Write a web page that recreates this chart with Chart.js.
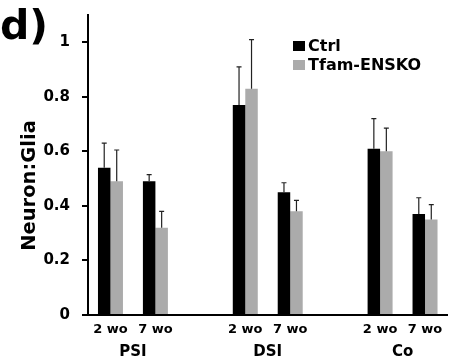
<!DOCTYPE html>
<html>
<head>
<meta charset="utf-8">
<script src="https://cdn.jsdelivr.net/npm/chart.js@4"></script>
<style>
  html, body { margin: 0; padding: 0; background: #fff; }
  canvas { display: block; }
</style>
</head>
<body>
<canvas id="chart" width="457" height="364"></canvas>
<script>
// Time points per region; empty slots separate the three regions
const timeLabels = ['2 wo', '7 wo', '', '2 wo', '7 wo', '', '2 wo', '7 wo'];
const regionNames = ['PSI', 'DSI', 'Co'];
const regionSlots = [[0, 1], [3, 4], [6, 7]];

// Neuron:Glia ratio (mean) and standard error
const ctrlMean = [0.54, 0.49, null, 0.77, 0.45, null, 0.61, 0.37];
const ctrlErr  = [0.09, 0.025, null, 0.14, 0.035, null, 0.11, 0.06];
const koMean   = [0.49, 0.32, null, 0.83, 0.38, null, 0.60, 0.35];
const koErr    = [0.115, 0.06, null, 0.18, 0.04, null, 0.085, 0.055];

const yTicks = [0, 0.2, 0.4, 0.6, 0.8, 1];

const FONT = 'DejaVu Sans';

// Upward error bars with a small cap
const errorBars = {
  id: 'errorBars',
  afterDatasetsDraw(chart) {
    const ctx = chart.ctx;
    const y = chart.scales.y;
    chart.data.datasets.forEach((ds, di) => {
      const meta = chart.getDatasetMeta(di);
      meta.data.forEach((bar, i) => {
        const v = ds.data[i];
        const e = ds.errors[i];
        if (v == null || e == null) return;
        const top = y.getPixelForValue(v + e);
        ctx.save();
        ctx.strokeStyle = '#222';
        ctx.lineWidth = 1.2;
        ctx.beginPath();
        ctx.moveTo(bar.x, bar.y);
        ctx.lineTo(bar.x, top);
        ctx.moveTo(bar.x - 2.5, top);
        ctx.lineTo(bar.x + 2.5, top);
        ctx.stroke();
        ctx.restore();
      });
    });
  }
};

// Region names, legend, axis title and panel letter
const annotations = {
  id: 'annotations',
  afterDraw(chart) {
    const ctx = chart.ctx;
    const x = chart.scales.x;
    ctx.save();
    ctx.fillStyle = '#000';

    // region names under each pair of time points
    ctx.font = 'bold 15px "' + FONT + '"';
    ctx.textAlign = 'center';
    ctx.textBaseline = 'middle';
    regionSlots.forEach((slots, k) => {
      const cx = (x.getPixelForValue(slots[0]) + x.getPixelForValue(slots[1])) / 2;
      ctx.fillText(regionNames[k], cx, 352);
    });

    // legend
    ctx.font = 'bold 16px "' + FONT + '"';
    ctx.textAlign = 'left';
    chart.data.datasets.forEach((ds, i) => {
      const cy = 46 + i * 19;
      ctx.fillStyle = ds.backgroundColor;
      ctx.fillRect(293, cy - 5, 12, 10);
      ctx.fillStyle = '#000';
      ctx.fillText(ds.label, 308, cy + 1);
    });

    // y axis title
    ctx.save();
    ctx.translate(30, 185.5);
    ctx.rotate(-Math.PI / 2);
    ctx.textAlign = 'center';
    ctx.textBaseline = 'middle';
    ctx.font = 'bold 19.5px "' + FONT + '"';
    ctx.fillText('Neuron:Glia', 0, 0);
    ctx.restore();

    // panel letter
    ctx.font = 'bold 41px "' + FONT + '"';
    ctx.textAlign = 'left';
    ctx.textBaseline = 'alphabetic';
    ctx.fillText('d)', 0, 39);
    ctx.restore();
  }
};

new Chart(document.getElementById('chart'), {
  type: 'bar',
  data: {
    labels: timeLabels,
    datasets: [
      { label: 'Ctrl', data: ctrlMean, errors: ctrlErr, backgroundColor: '#000000' },
      { label: 'Tfam-ENSKO', data: koMean, errors: koErr, backgroundColor: '#ababab' }
    ]
  },
  options: {
    responsive: false,
    devicePixelRatio: 1,
    animation: false,
    layout: { padding: { top: 15, right: 9.5, left: 0, bottom: 0 } },
    datasets: {
      bar: { categoryPercentage: 0.556, barPercentage: 1, skipNull: false }
    },
    plugins: {
      legend: { display: false },
      tooltip: { enabled: false }
    },
    scales: {
      x: {
        grid: { display: false, drawTicks: false },
        border: { display: true, color: '#000', width: 2 },
        ticks: {
          color: '#000',
          padding: 7,
          autoSkip: false,
          maxRotation: 0,
          font: { family: FONT, weight: 'bold', size: 13 }
        },
        afterFit(scale) {
          scale.height = 49;
          scale.paddingLeft = 0;
          scale.paddingRight = 0;
        }
      },
      y: {
        min: 0,
        max: 1.1,
        afterBuildTicks(scale) { scale.ticks = yTicks.map(v => ({ value: v })); },
        grid: { drawOnChartArea: false, drawTicks: true, tickLength: 6, color: '#000', lineWidth: 2 },
        border: { display: true, color: '#000', width: 2 },
        ticks: {
          color: '#000',
          padding: 12,
          font: { family: FONT, weight: 'bold', size: 15 },
          callback: v => String(+v.toFixed(1))
        },
        afterFit(scale) {
          scale.width = 88;
          scale.paddingTop = 0;
          scale.paddingBottom = 0;
        }
      }
    }
  },
  plugins: [errorBars, annotations]
});
</script>
</body>
</html>
